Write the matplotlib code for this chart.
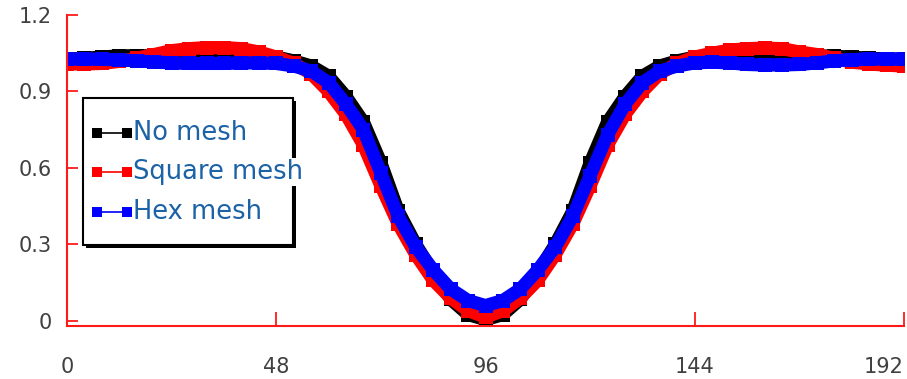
import matplotlib.pyplot as plt
from matplotlib.patches import Rectangle
from matplotlib.lines import Line2D

W, H = 907, 379

# sample positions along the profile
x = list(range(0, 193, 4))

no_mesh = [1.027, 1.030, 1.035, 1.040, 1.040, 1.040, 1.040, 1.042, 1.045, 1.045, 1.042, 1.040, 1.035,
           1.020, 1.000, 0.960, 0.880, 0.780, 0.620, 0.430, 0.300, 0.190, 0.085, 0.025, 0.005,
           0.025, 0.085, 0.190, 0.300, 0.430, 0.620, 0.780, 0.880, 0.960, 1.000, 1.020, 1.035,
           1.040, 1.042, 1.045, 1.045, 1.042, 1.040, 1.040, 1.038, 1.035, 1.030, 1.028, 1.027]

square_mesh = [1.008, 1.008, 1.010, 1.018, 1.030, 1.045, 1.060, 1.068, 1.072, 1.072, 1.068, 1.055, 1.035,
               1.010, 0.970, 0.900, 0.810, 0.690, 0.530, 0.380, 0.260, 0.160, 0.090, 0.040, 0.015,
               0.040, 0.090, 0.160, 0.260, 0.380, 0.530, 0.690, 0.810, 0.900, 0.970, 1.010, 1.035,
               1.050, 1.062, 1.068, 1.070, 1.068, 1.055, 1.045, 1.030, 1.015, 1.008, 1.003, 1.000]

hex_mesh = [1.027, 1.027, 1.026, 1.024, 1.020, 1.016, 1.012, 1.010, 1.010, 1.010, 1.012, 1.012, 1.010,
            1.000, 0.980, 0.935, 0.850, 0.750, 0.580, 0.410, 0.290, 0.200, 0.125, 0.080, 0.060,
            0.080, 0.125, 0.200, 0.290, 0.410, 0.570, 0.730, 0.850, 0.935, 0.980, 1.000, 1.012,
            1.015, 1.012, 1.006, 1.004, 1.004, 1.006, 1.012, 1.020, 1.025, 1.027, 1.027, 1.027]

labels = ['No mesh', 'Square mesh', 'Hex mesh']
colors = ['#000000', '#ff0000', '#0000ff']
xticks = [0, 48, 96, 144, 192]
yticks = [0, 0.3, 0.6, 0.9, 1.2]
ytick_labels = ['0', '0.3', '0.6', '0.9', '1.2']


def fx(px):
    return px / W


def fy(py):
    return 1 - py / H


fig = plt.figure(figsize=(W / 100, H / 100), dpi=100)
ax = fig.add_axes([fx(67), fy(326), (904 - 67) / W, (326 - 15) / H])

for ys, c in zip([no_mesh, square_mesh, hex_mesh], colors):
    ax.plot(x, ys, color=c, linewidth=9.5, marker='s', markersize=9.5,
            markeredgewidth=0, solid_joinstyle='miter')

ax.set_xlim(0, 192)
ax.set_ylim(-0.02, 1.2)
ax.set_xticks(xticks)
ax.set_yticks(yticks)
ax.set_yticklabels(ytick_labels)

for s in ['top', 'right']:
    ax.spines[s].set_visible(False)
for s in ['left', 'bottom']:
    ax.spines[s].set_color('#ff1a1a')
    ax.spines[s].set_linewidth(1.5)

ax.tick_params(axis='x', direction='in', length=10, width=1.3, color='#ff1a1a',
               pad=22, labelsize=15, labelcolor='#404040')
ax.tick_params(axis='y', direction='in', length=8, width=1.3, color='#ff1a1a',
               pad=11, labelsize=15, labelcolor='#404040')
# last label sits flush with the right edge, as in the original
ax.get_xticklabels()[-1].set_horizontalalignment('right')

# hand-made legend box with shadow
fig.add_artist(Rectangle((fx(86), fy(248)), (293 - 83) / W, (245 - 98) / H,
                         transform=fig.transFigure, facecolor='black', edgecolor='none'))
fig.add_artist(Rectangle((fx(83), fy(245)), (293 - 83) / W, (245 - 98) / H,
                         transform=fig.transFigure, facecolor='white', edgecolor='black',
                         linewidth=1.5))

rows = [133, 172, 212]
for lab, c, ry in zip(labels, colors, rows):
    fig.add_artist(Line2D([fx(97), fx(127)], [fy(ry), fy(ry)], transform=fig.transFigure,
                          color=c, linewidth=1.2, marker='s', markersize=7,
                          markeredgewidth=0))
    fig.text(fx(133), fy(ry), lab, fontsize=18.5, color='#1c62a6', va='center', ha='left',
             bbox=dict(facecolor='white', edgecolor='none', pad=1))

fig.savefig('out.png', dpi=100)
